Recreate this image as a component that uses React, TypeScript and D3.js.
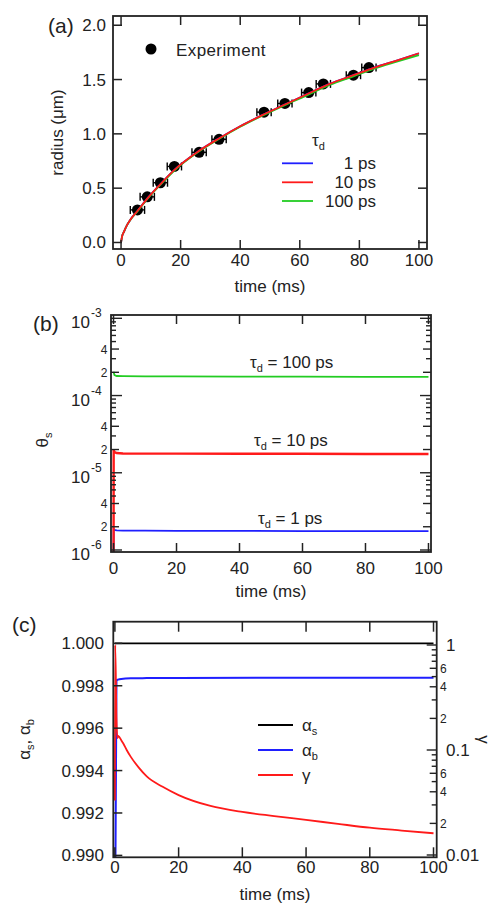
import React from 'react';
import * as d3 from 'd3';

const W = 495;
const H = 907;
const FONT = '"Liberation Sans", Arial, Helvetica, sans-serif';
const BLUE = '#1f1fff';
const RED = '#ff1a1a';
const GREEN = '#22cc22';
const AXC = '#222';

// ---------- Panel (a) data ----------
const expTime = [5.5, 8.8, 13.2, 17.9, 26.2, 32.9, 48, 55, 63, 67.9, 78, 83.2];
const expRadius = [0.30, 0.42, 0.55, 0.70, 0.83, 0.95, 1.20, 1.28, 1.38, 1.46, 1.54, 1.61];
const expTimeErr = [2.4, 2.4, 2.4, 2.4, 2.4, 2.4, 2.4, 2.4, 2.4, 2.4, 2.4, 2.4];
const fitTime = [0, 0.3, 1, 2, 3, 5.5, 9, 13, 18, 26, 33, 40, 48, 55, 62, 70, 78, 85, 92, 100];
const fit1ps = [0, 0.05, 0.10, 0.16, 0.205, 0.29, 0.41, 0.53, 0.67, 0.84, 0.96, 1.07, 1.18, 1.27, 1.36, 1.46, 1.54, 1.61, 1.67, 1.74];
const fit10ps = [0, 0.05, 0.10, 0.16, 0.205, 0.29, 0.41, 0.53, 0.67, 0.84, 0.96, 1.07, 1.18, 1.27, 1.36, 1.46, 1.54, 1.61, 1.67, 1.742];
const fit100ps = [0, 0.05, 0.10, 0.16, 0.203, 0.287, 0.405, 0.525, 0.665, 0.835, 0.955, 1.065, 1.175, 1.265, 1.35, 1.45, 1.53, 1.60, 1.66, 1.725];
const xTicksLin = [0, 20, 40, 60, 80, 100];
const radiusTicks = [0, 0.5, 1.0, 1.5, 2.0];
const legendA = ['1 ps', '10 ps', '100 ps'];

// ---------- Panel (b) data ----------
const thetaTime = [0, 0.05, 0.3, 1, 3, 10, 20, 40, 60, 80, 100];
const theta1ps = [1e-7, 1.87e-6, 1.82e-6, 1.79e-6, 1.78e-6, 1.78e-6, 1.77e-6, 1.77e-6, 1.76e-6, 1.76e-6, 1.76e-6];
const theta10ps = [1e-7, 2.0e-5, 1.85e-5, 1.80e-5, 1.78e-5, 1.77e-5, 1.77e-5, 1.76e-5, 1.76e-5, 1.75e-5, 1.75e-5];
const theta100ps = [2.0e-4, 2.0e-4, 1.84e-4, 1.79e-4, 1.78e-4, 1.77e-4, 1.77e-4, 1.76e-4, 1.76e-4, 1.75e-4, 1.75e-4];
const thetaLabels = ['100 ps', '10 ps', '1 ps'];

// ---------- Panel (c) data ----------
const alphaSTime = [0, 100];
const alphaS = [1.0, 1.0];
const alphaBTime = [0, 0.5, 1, 2, 5, 10, 20, 50, 100];
const alphaB = [0.985, 0.99826, 0.99829, 0.99832, 0.99835, 0.99836, 0.99837, 0.99838, 0.99838];
const gammaTime = [0, 0.1, 0.5, 0.8, 1.0, 1.3, 2, 2.6, 3.7, 5, 7.5, 10, 15, 20, 30, 40, 50, 60, 70, 80, 90, 100];
const gamma = [0.033, 1.0, 0.2, 0.13, 0.136, 0.134, 0.124, 0.116, 0.1, 0.086, 0.068, 0.056, 0.0446, 0.0372, 0.0293, 0.0257, 0.0235, 0.0216, 0.0198, 0.0182, 0.0171, 0.0161];
const alphaTicks = [0.990, 0.992, 0.994, 0.996, 0.998, 1.000];

// ---------- geometry ----------
const A = { l: 113, r: 427, t: 16, b: 249 };
const B = { l: 111, r: 431, t: 315, b: 552 };
const C = { l: 113.3, r: 436.7, t: 621.7, b: 857.3 };

const xA = d3.scaleLinear().domain([-2.7, 102.7]).range([A.l, A.r]);
const yA = d3.scaleLinear().domain([-0.06, 2.085]).range([A.b, A.t]);
const xB = d3.scaleLinear().domain([-0.8, 100.8]).range([B.l, B.r]);
const yB = d3.scaleLog().domain([Math.pow(10, -6.0259), Math.pow(10, -2.957)]).range([B.b, B.t]);
const xC = d3.scaleLinear().domain([-0.5, 101]).range([C.l, C.r]);
const yC = d3.scaleLinear().domain([0.98991, 1.00102]).range([C.b, C.t]);
const yG = d3.scaleLog().domain([Math.pow(10, -2.0219), Math.pow(10, 0.2219)]).range([C.b, C.t]);

function pathOf(xs: number[], ys: number[], x: any, y: any, smooth = false) {
  const pts = xs.map((t, i) => [t, ys[i]] as [number, number]);
  const gen = d3.line<[number, number]>().x(d => x(d[0])).y(d => y(d[1]));
  if (smooth) gen.curve(d3.curveMonotoneX);
  return gen(pts) || '';
}

function Frame({ p }: { p: { l: number; r: number; t: number; b: number } }) {
  return <rect x={p.l} y={p.t} width={p.r - p.l} height={p.b - p.t} fill="none" stroke={AXC} strokeWidth={1.8} />;
}

function XTicks({ p, x, labelY, len = 9 }: any) {
  return (
    <g>
      {xTicksLin.map(v => (
        <g key={v}>
          <line x1={x(v)} x2={x(v)} y1={p.b} y2={p.b - len} stroke={AXC} strokeWidth={1.5} />
          <line x1={x(v)} x2={x(v)} y1={p.t} y2={p.t + len} stroke={AXC} strokeWidth={1.5} />
          <text x={x(v)} y={labelY} textAnchor="middle" fontSize={17}>{v}</text>
        </g>
      ))}
    </g>
  );
}

function logTicks(scale: any) {
  const [lo, hi] = scale.domain();
  const out: { v: number; k: number }[] = [];
  for (let e = Math.floor(Math.log10(lo)); e <= Math.ceil(Math.log10(hi)); e++) {
    for (let k = 1; k <= 9; k++) {
      const v = k * Math.pow(10, e);
      if (v >= lo && v <= hi) out.push({ v, k });
    }
  }
  return out;
}

export default function App() {
  const bTicks = logTicks(yB);
  const gTicks = logTicks(yG);
  const tauY = [163.3, 182.3, 201];
  const tauColors = [BLUE, RED, GREEN];
  const thetaAnn = [
    { x: 250, y: 368, txt: thetaLabels[0] },
    { x: 254, y: 446, txt: thetaLabels[1] },
    { x: 258, y: 524, txt: thetaLabels[2] },
  ];
  const legC = [
    { c: '#000', main: 'α', sub: 's', y: 725 },
    { c: BLUE, main: 'α', sub: 'b', y: 750 },
    { c: RED, main: 'γ', sub: '', y: 775 },
  ];

  return (
    <svg width={W} height={H} style={{ position: 'absolute', left: 0, top: 0, background: '#fff' }}
      fontFamily={FONT} fill="#222">
      <defs>
        <clipPath id="clipA"><rect x={A.l} y={A.t} width={A.r - A.l} height={A.b - A.t} /></clipPath>
        <clipPath id="clipB"><rect x={B.l} y={B.t} width={B.r - B.l} height={B.b - B.t} /></clipPath>
        <clipPath id="clipC"><rect x={C.l} y={C.t} width={C.r - C.l} height={C.b - C.t} /></clipPath>
      </defs>

      {/* ================= Panel (a) ================= */}
      <text x={48} y={33} fontSize={21}>(a)</text>
      <g clipPath="url(#clipA)">
        {expTime.map((t, i) => {
          const cx = xA(t), cy = yA(expRadius[i]);
          const x1 = xA(t - expTimeErr[i]), x2 = xA(t + expTimeErr[i]);
          return (
            <g key={i}>
              <line x1={x1} x2={x2} y1={cy} y2={cy} stroke="#000" strokeWidth={1.4} />
              <line x1={x1} x2={x1} y1={cy - 4} y2={cy + 4} stroke="#000" strokeWidth={1.4} />
              <line x1={x2} x2={x2} y1={cy - 4} y2={cy + 4} stroke="#000" strokeWidth={1.4} />
              <circle cx={cx} cy={cy} r={5.5} fill="#000" />
            </g>
          );
        })}
        <path d={pathOf(fitTime, fit1ps, xA, yA, true)} fill="none" stroke={BLUE} strokeWidth={1.8} />
        <path d={pathOf(fitTime, fit100ps, xA, yA, true)} fill="none" stroke={GREEN} strokeWidth={1.8} />
        <path d={pathOf(fitTime, fit10ps, xA, yA, true)} fill="none" stroke={RED} strokeWidth={1.8} />
      </g>
      <Frame p={A} />
      <XTicks p={A} x={xA} labelY={266} len={9} />
      {radiusTicks.map(v => (
        <g key={v}>
          <line x1={A.l} x2={A.l + 9} y1={yA(v)} y2={yA(v)} stroke={AXC} strokeWidth={1.5} />
          <line x1={A.r} x2={A.r - 9} y1={yA(v)} y2={yA(v)} stroke={AXC} strokeWidth={1.5} />
          <text x={106} y={yA(v) + 6} textAnchor="end" fontSize={17}>{v.toFixed(1)}</text>
        </g>
      ))}
      <text x={(A.l + A.r) / 2} y={292} textAnchor="middle" fontSize={17}>time (ms)</text>
      <text transform={`translate(63,${(A.t + A.b) / 2}) rotate(-90)`} textAnchor="middle" fontSize={17}>radius (μm)</text>
      {/* legend a */}
      <circle cx={151} cy={49} r={5.5} fill="#000" />
      <text x={176} y={55.5} fontSize={17} letterSpacing={0.4}>Experiment</text>
      <text x={312} y={146} fontSize={17}>τ<tspan dy={4} fontSize={11}>d</tspan></text>
      {legendA.map((s, i) => (
        <g key={s}>
          <line x1={282} x2={313} y1={tauY[i]} y2={tauY[i]} stroke={tauColors[i]} strokeWidth={1.8} />
          <text x={376} y={tauY[i] + 6} textAnchor="end" fontSize={17}>{s}</text>
        </g>
      ))}

      {/* ================= Panel (b) ================= */}
      <text x={33} y={331} fontSize={21}>(b)</text>
      <g clipPath="url(#clipB)">
        <path d={pathOf(thetaTime, theta100ps, xB, yB)} fill="none" stroke={GREEN} strokeWidth={1.8} />
        <path d={pathOf(thetaTime, theta1ps, xB, yB)} fill="none" stroke={BLUE} strokeWidth={1.8} />
        <path d={pathOf(thetaTime, theta10ps, xB, yB)} fill="none" stroke={RED} strokeWidth={2.4} />
      </g>
      <Frame p={B} />
      <XTicks p={B} x={xB} labelY={574} len={9} />
      {bTicks.map(({ v, k }, i) => {
        const y = yB(v);
        const len = k === 1 ? 11 : (k === 2 || k === 4) ? 8 : 5;
        return (
          <g key={i}>
            <line x1={B.l} x2={B.l + len} y1={y} y2={y} stroke={AXC} strokeWidth={1.4} />
            <line x1={B.r} x2={B.r - len} y1={y} y2={y} stroke={AXC} strokeWidth={1.4} />
            {k === 1 && (
              <text x={90} y={y + 10} textAnchor="end" fontSize={17}>10</text>
            )}
            {k === 1 && (
              <text x={91} y={y - 1} fontSize={12}>{Math.round(Math.log10(v))}</text>
            )}
            {(k === 2 || k === 4) && (
              <text x={107.5} y={y + 4.5} textAnchor="end" fontSize={12}>{k}</text>
            )}
          </g>
        );
      })}
      <text x={(B.l + B.r) / 2} y={597} textAnchor="middle" fontSize={17}>time (ms)</text>
      <text transform={`translate(48,440) rotate(-90)`} textAnchor="middle" fontSize={17}>θ<tspan dy={4} fontSize={11}>s</tspan></text>
      {thetaAnn.map((a, i) => (
        <text key={i} x={a.x} y={a.y} fontSize={17}>τ<tspan dy={4} fontSize={11}>d</tspan><tspan dy={-4}>{` = ${a.txt}`}</tspan></text>
      ))}

      {/* ================= Panel (c) ================= */}
      <text x={12} y={632} fontSize={21}>(c)</text>
      <g clipPath="url(#clipC)">
        <path d={pathOf(alphaSTime, alphaS, xC, yC)} fill="none" stroke="#000" strokeWidth={1.8} />
        <path d={pathOf(alphaBTime, alphaB, xC, yC, true)} fill="none" stroke={BLUE} strokeWidth={2} />
        <path d={pathOf(gammaTime, gamma, xC, yG, true)} fill="none" stroke={RED} strokeWidth={1.8} />
      </g>
      <Frame p={C} />
      <XTicks p={C} x={xC} labelY={873} len={10} />
      {alphaTicks.map(v => (
        <g key={v}>
          <line x1={C.l} x2={C.l + 9} y1={yC(v)} y2={yC(v)} stroke={AXC} strokeWidth={1.5} />
          <text x={104} y={yC(v) + 6} textAnchor="end" fontSize={17}>{v.toFixed(3)}</text>
        </g>
      ))}
      {gTicks.map(({ v, k }, i) => {
        const y = yG(v);
        const len = k === 1 ? 10 : (k === 2 || k === 4 || k === 6) ? 7 : 5;
        const major = k === 1;
        const lab = major ? (v >= 1 ? '1' : v >= 0.1 ? '0.1' : '0.01') : String(k);
        return (
          <g key={i}>
            <line x1={C.r} x2={C.r - len} y1={y} y2={y} stroke={AXC} strokeWidth={1.4} />
            {major && <text x={446} y={y + 6} fontSize={17}>{lab}</text>}
            {(k === 2 || k === 4 || k === 6) && <text x={440} y={y + 4.5} fontSize={12}>{lab}</text>}
          </g>
        );
      })}
      <text x={(C.l + C.r) / 2} y={900} textAnchor="middle" fontSize={17}>time (ms)</text>
      <text transform={`translate(30,${(C.t + C.b) / 2}) rotate(-90)`} textAnchor="middle" fontSize={17}>
        α<tspan dy={4} fontSize={11}>s</tspan><tspan dy={-4}>, α</tspan><tspan dy={4} fontSize={11}>b</tspan>
      </text>
      <text transform={`translate(478,${(C.t + C.b) / 2}) rotate(90)`} textAnchor="middle" fontSize={17}>γ</text>
      {legC.map((l, i) => (
        <g key={i}>
          <line x1={258} x2={293} y1={l.y} y2={l.y} stroke={l.c} strokeWidth={1.8} />
          <text x={302} y={l.y + 6} fontSize={17}>{l.main}{l.sub && <tspan dy={4} fontSize={11}>{l.sub}</tspan>}</text>
        </g>
      ))}
    </svg>
  );
}
